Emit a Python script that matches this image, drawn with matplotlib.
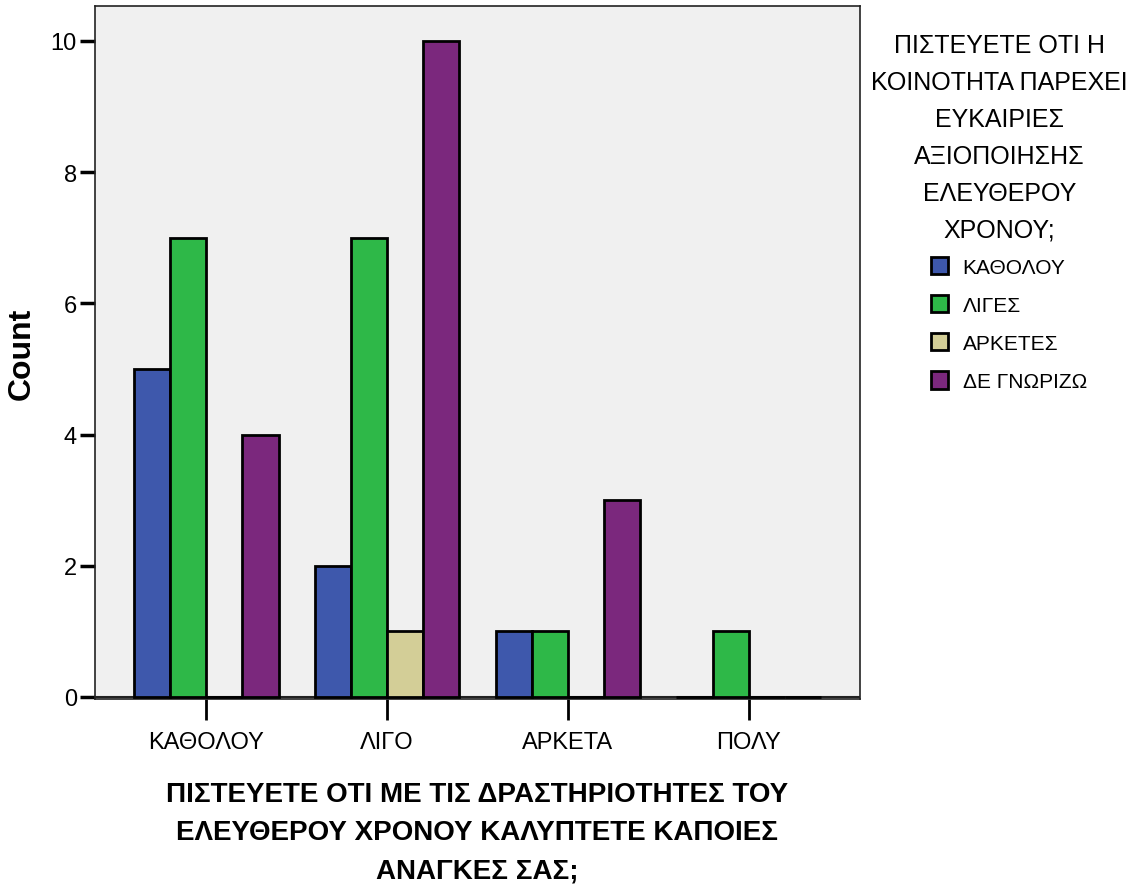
import matplotlib
matplotlib.use('Agg')
import matplotlib.pyplot as plt
import numpy as np
from matplotlib.patches import Patch

plt.rcParams['font.family'] = ['Liberation Sans', 'DejaVu Sans']

# data
categories = ['ΚΑΘΟΛΟΥ', 'ΛΙΓΟ', 'ΑΡΚΕΤΑ', 'ΠΟΛΥ']
groups = ['ΚΑΘΟΛΟΥ', 'ΛΙΓΕΣ', 'ΑΡΚΕΤΕΣ', 'ΔΕ ΓΝΩΡΙΖΩ']
kathólou = [5, 2, 1, 0]
liges = [7, 7, 1, 1]
arketes = [0, 1, 0, 0]
de_gnorizo = [4, 10, 3, 0]
series = [kathólou, liges, arketes, de_gnorizo]
colors = ['#3E58AC', '#2EB848', '#D3CE97', '#7B287D']

legend_title = 'ΠΙΣΤΕΥΕΤΕ ΟΤΙ Η\nΚΟΙΝΟΤΗΤΑ ΠΑΡΕΧΕΙ\nΕΥΚΑΙΡΙΕΣ\nΑΞΙΟΠΟΙΗΣΗΣ\nΕΛΕΥΘΕΡΟΥ\nΧΡΟΝΟΥ;'
xlabel = 'ΠΙΣΤΕΥΕΤΕ ΟΤΙ ΜΕ ΤΙΣ ΔΡΑΣΤΗΡΙΟΤΗΤΕΣ ΤΟΥ\nΕΛΕΥΘΕΡΟΥ ΧΡΟΝΟΥ ΚΑΛΥΠΤΕΤΕ ΚΑΠΟΙΕΣ\nΑΝΑΓΚΕΣ ΣΑΣ;'

fig = plt.figure(figsize=(11.45, 8.95), dpi=100)
ax = fig.add_axes([0.083, 0.218, 0.668, 0.774])
ax.set_facecolor('#F0F0F0')

x = np.arange(len(categories))
w = 0.2
for i, vals in enumerate(series):
    ax.bar(x + (i - 1.5) * w, vals, width=w, color=colors[i],
           edgecolor='black', linewidth=2, zorder=3)

ax.axhline(0, color='#222222', lw=1.5, zorder=2)
ax.set_xlim(-0.615, 3.615)
ax.set_ylim(-0.03, 10.53)
ax.set_yticks([0, 2, 4, 6, 8, 10])
ax.set_xticks(x)
ax.set_xticklabels(categories)
ax.tick_params(axis='y', length=11, width=2.5, labelsize=17, pad=2)
ax.tick_params(axis='x', length=15, width=2, labelsize=17, pad=8)
for s in ax.spines.values():
    s.set_linewidth(1.2)
    s.set_color('#222222')

ax.set_ylabel('Count', fontsize=23, fontweight='bold', labelpad=10)
ax.set_xlabel(xlabel, fontsize=20, fontweight='bold', labelpad=20, linespacing=1.62)

fig.text(0.873, 0.962, legend_title, ha='center', va='top', fontsize=18, linespacing=1.68)

handles = [Patch(facecolor=c, edgecolor='black', linewidth=2) for c in colors]
fig.legend(handles, groups, loc='upper left', bbox_to_anchor=(0.797, 0.733),
           frameon=False, fontsize=15, handlelength=0.8, handleheight=0.9,
           handletextpad=0.7, labelspacing=0.88)

plt.savefig('out.png', dpi=100)
